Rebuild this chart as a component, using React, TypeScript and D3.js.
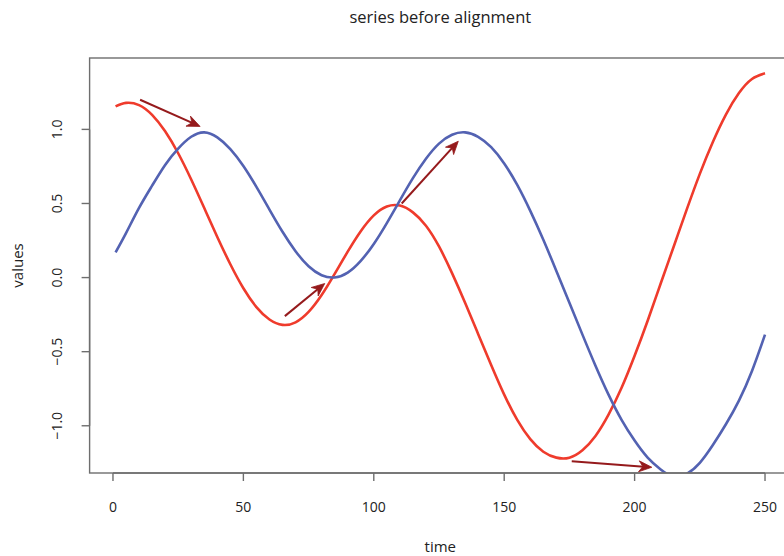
import React from "react";
import * as d3 from "d3";

const timePoints = [1, 5, 10, 15, 20, 25, 30, 35, 40, 45, 50, 55, 60, 65, 70, 75, 80, 85, 90, 95, 100, 105, 110, 115, 120, 125, 130, 135, 140, 145, 150, 155, 160, 165, 170, 175, 180, 185, 190, 195, 200, 205, 210, 215, 220, 225, 230, 235, 240, 245, 250];

const redSeries = [1.155, 1.179, 1.164, 1.098, 0.987, 0.839, 0.662, 0.469, 0.274, 0.09, -0.072, -0.199, -0.283, -0.319, -0.302, -0.232, -0.118, 0.025, 0.175, 0.313, 0.42, 0.48, 0.486, 0.44, 0.35, 0.21, 0.03, -0.17, -0.38, -0.59, -0.79, -0.96, -1.09, -1.175, -1.215, -1.215, -1.165, -1.069, -0.925, -0.744, -0.528, -0.291, -0.04, 0.21, 0.46, 0.7, 0.915, 1.1, 1.245, 1.34, 1.378];

const blueSeries = [0.17, 0.3, 0.47, 0.62, 0.76, 0.87, 0.95, 0.98, 0.946, 0.867, 0.753, 0.612, 0.459, 0.309, 0.178, 0.076, 0.016, 0.001, 0.034, 0.113, 0.227, 0.368, 0.521, 0.671, 0.802, 0.904, 0.964, 0.98, 0.95, 0.88, 0.77, 0.625, 0.45, 0.255, 0.045, -0.17, -0.385, -0.595, -0.79, -0.96, -1.1, -1.215, -1.295, -1.345, -1.325, -1.25, -1.13, -0.99, -0.83, -0.63, -0.385];

// arrows: start (t, v) -> end (t, v)
const arrowStartT = [10.4, 65.9, 110.7, 175.9];
const arrowStartV = [1.2, -0.26, 0.5, -1.24];
const arrowEndT = [33.4, 81.2, 132.4, 206.6];
const arrowEndV = [1.02, -0.04, 0.92, -1.28];

const xTicks = [0, 50, 100, 150, 200, 250];
const yTicks = [-1, -0.5, 0, 0.5, 1];
const yTickLabels = ["\u22121.0", "\u22120.5", "0.0", "0.5", "1.0"];

const titleText = "series before alignment";
const xLabel = "time";
const yLabel = "values";

const W = 784;
const H = 556;
const plotLeft = 89.6;
const plotRight = 791;
const plotTop = 58;
const plotBottom = 473;

const RED = "#EF3B2C";
const BLUE = "#5362B2";
const ARROW = "#951A1C";
const AXIS = "#6e6e6e";
const FONT = "'Open Sans', 'DejaVu Sans', sans-serif";

export default function App() {
  const tExt = d3.extent(timePoints) as [number, number];
  const tPad = (tExt[1] - tExt[0]) * 0.04;
  const x = d3.scaleLinear().domain([tExt[0] - tPad, tExt[1] + tPad]).range([plotLeft, plotRight]);
  const vExt = d3.extent(redSeries) as [number, number];
  const vPad = (vExt[1] - vExt[0]) * 0.04;
  const y = d3.scaleLinear().domain([vExt[0] - vPad, vExt[1] + vPad]).range([plotBottom, plotTop]);

  const line = d3
    .line<number>()
    .x((_, i) => x(timePoints[i]))
    .y((d) => y(d))
    .curve(d3.curveNatural);

  const arrows = arrowStartT.map((t0, i) => {
    const x0 = x(t0), y0 = y(arrowStartV[i]);
    const x1 = x(arrowEndT[i]), y1 = y(arrowEndV[i]);
    const ang = Math.atan2(y1 - y0, x1 - x0);
    const L = 13, Wd = 5.5, notch = 9;
    const ca = Math.cos(ang), sa = Math.sin(ang);
    const pt = (a: number, b: number) => [x1 + a * ca - b * sa, y1 + a * sa + b * ca];
    const p1 = pt(-L, -Wd), p2 = pt(-notch, 0), p3 = pt(-L, Wd);
    const shaftEnd = pt(-notch + 1, 0);
    return { x0, y0, x1, y1, head: `M${x1},${y1}L${p1[0]},${p1[1]}L${p2[0]},${p2[1]}L${p3[0]},${p3[1]}Z`, sx: shaftEnd[0], sy: shaftEnd[1] };
  });

  return (
    <svg width={W} height={H} style={{ position: "absolute", left: 0, top: 0, background: "#fff" }} fontFamily={FONT}>
      <defs>
        <clipPath id="plotClip">
          <rect x={plotLeft} y={plotTop} width={plotRight - plotLeft} height={plotBottom - plotTop} />
        </clipPath>
      </defs>
      <rect x={0} y={0} width={W} height={H} fill="#fff" />
      <text x={(plotLeft + plotRight) / 2} y={23} textAnchor="middle" fontSize={16.5} fill="#222">
        {titleText}
      </text>
      <g clipPath="url(#plotClip)">
        <path d={line(redSeries) || ""} fill="none" stroke={RED} strokeWidth={2.6} />
        <path d={line(blueSeries) || ""} fill="none" stroke={BLUE} strokeWidth={2.6} />
      </g>
      {arrows.map((a, i) => (
        <g key={i}>
          <line x1={a.x0} y1={a.y0} x2={a.sx} y2={a.sy} stroke={ARROW} strokeWidth={2} />
          <path d={a.head} fill={ARROW} stroke={ARROW} strokeWidth={0.8} strokeLinejoin="miter" />
        </g>
      ))}
      {/* box */}
      <rect x={plotLeft} y={plotTop} width={plotRight - plotLeft} height={plotBottom - plotTop} fill="none" stroke={AXIS} strokeWidth={1.4} />
      {/* x axis */}
      <line x1={x(xTicks[0])} x2={x(xTicks[xTicks.length - 1])} y1={plotBottom} y2={plotBottom} stroke={AXIS} strokeWidth={1.4} />
      {xTicks.map((t) => (
        <g key={t}>
          <line x1={x(t)} x2={x(t)} y1={plotBottom} y2={plotBottom + 8} stroke={AXIS} strokeWidth={1.4} />
          <text x={x(t)} y={512} textAnchor="middle" fontSize={14} fill="#222">
            {t}
          </text>
        </g>
      ))}
      {/* y axis */}
      <line x1={plotLeft} x2={plotLeft} y1={y(yTicks[0])} y2={y(yTicks[yTicks.length - 1])} stroke={AXIS} strokeWidth={1.4} />
      {yTicks.map((v, i) => (
        <g key={v}>
          <line x1={plotLeft - 8} x2={plotLeft} y1={y(v)} y2={y(v)} stroke={AXIS} strokeWidth={1.4} />
          <text transform={`translate(62,${y(v)}) rotate(-90)`} textAnchor="middle" fontSize={14} fill="#222">
            {yTickLabels[i]}
          </text>
        </g>
      ))}
      <text x={(plotLeft + plotRight) / 2} y={552} textAnchor="middle" fontSize={15} fill="#222">
        {xLabel}
      </text>
      <text transform={`translate(23,${(plotTop + plotBottom) / 2}) rotate(-90)`} textAnchor="middle" fontSize={15} fill="#222">
        {yLabel}
      </text>
    </svg>
  );
}
